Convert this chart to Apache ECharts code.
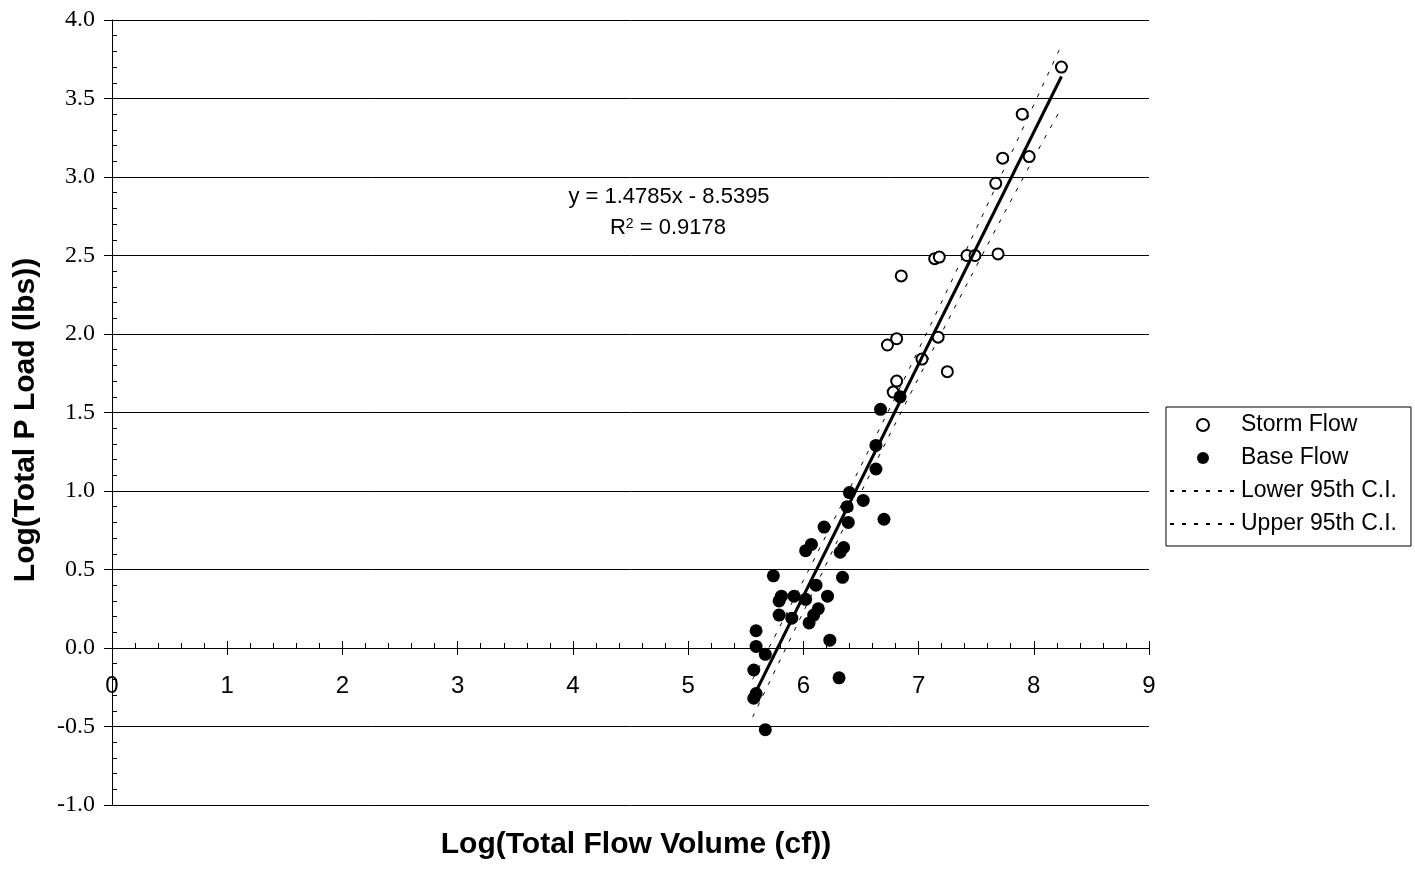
<!DOCTYPE html>
<html>
<head>
<meta charset="utf-8">
<script src="https://cdn.jsdelivr.net/npm/echarts@6/dist/echarts.min.js"></script>
<style>
html,body{margin:0;padding:0;background:#fff;}
#chart{width:1415px;height:872px;}
</style>
</head>
<body>
<div id="chart"></div>
<script>
// Storm flow points (open circles)
const stormX = [8.24, 7.90, 7.73, 7.96, 7.67, 7.14, 7.18, 7.42, 7.49, 7.69, 6.85, 6.73, 6.81, 7.17, 7.03, 7.25, 6.81, 6.78];
const stormY = [3.70, 3.40, 3.12, 3.13, 2.96, 2.48, 2.49, 2.50, 2.50, 2.51, 2.37, 1.93, 1.97, 1.98, 1.84, 1.76, 1.70, 1.63];
// Base flow points (filled circles)
const baseX = [6.84, 6.67, 6.63, 6.63, 6.40, 6.52, 6.38, 6.70, 6.39, 6.18, 6.07, 6.02, 6.35, 6.32, 5.74, 6.34, 6.11, 5.81,
               5.79, 5.92, 6.02, 6.21, 6.13, 6.09, 6.05, 5.79, 5.90, 5.59, 6.23, 5.59, 5.67, 5.57, 6.31, 5.59, 5.57, 5.67];
const baseY = [1.60, 1.52, 1.29, 1.14, 0.99, 0.94, 0.90, 0.82, 0.80, 0.77, 0.66, 0.62, 0.64, 0.61, 0.46, 0.45, 0.40, 0.33,
               0.30, 0.33, 0.31, 0.33, 0.25, 0.21, 0.16, 0.21, 0.19, 0.11, 0.05, 0.01, -0.04, -0.14, -0.19, -0.29, -0.32, -0.52];
// Regression line end points
const trendX = [5.56, 8.24];
const trendY = [-0.32, 3.64];
// 95% confidence interval curves
const ciX = [5.56, 6.0, 6.5, 7.0, 7.5, 8.0, 8.24];
const ciLower = [-0.44, 0.23, 0.99, 1.72, 2.43, 3.12, 3.44];
const ciUpper = [-0.20, 0.43, 1.16, 1.90, 2.67, 3.46, 3.84];
const xTicks = [0, 9, 1];
const yTicks = [-1, 4, 0.5];
const legendNames = ['Storm Flow', 'Base Flow', 'Lower 95th C.I.', 'Upper 95th C.I.'];

const zip = (a, b) => a.map((v, i) => [v, b[i]]);
const FONT = '"Liberation Sans", Arial, sans-serif';
const SERIF = '"Liberation Serif", "Times New Roman", serif';

const GRID_TOP = 20, GRID_BOTTOM = 67, H = 872;
const plotH = H - GRID_TOP - GRID_BOTTOM;
// distance from bottom of plot to the zero line (used to place the x tick labels at the crossing axis)
const zeroOffset = plotH * (0 - yTicks[0]) / (yTicks[1] - yTicks[0]);

const chart = echarts.init(document.getElementById('chart'), null, {renderer: 'canvas'});
chart.setOption({
  animation: false,
  backgroundColor: '#fff',
  grid: {left: 112, right: 266, top: GRID_TOP, bottom: GRID_BOTTOM, containLabel: false},
  xAxis: [
    {type: 'value', min: xTicks[0], max: xTicks[1], interval: xTicks[2],
     axisLine: {show: true, onZero: true, onZeroAxisIndex: 0, lineStyle: {color: '#000', width: 1}},
     axisTick: {show: true, inside: true, length: 7, lineStyle: {color: '#000'}},
     minorTick: {show: true, splitNumber: 5, length: 5, lineStyle: {color: '#000'}},
     axisLabel: {show: false},
     splitLine: {show: false}},
    {type: 'value', min: xTicks[0], max: xTicks[1], interval: xTicks[2], position: 'bottom',
     axisLine: {show: false, onZero: true, onZeroAxisIndex: 0},
     axisTick: {show: true, inside: false, length: 7, lineStyle: {color: '#000'}},
     axisLabel: {show: false}, splitLine: {show: false}},
    {type: 'value', min: xTicks[0], max: xTicks[1], interval: xTicks[2], position: 'bottom',
     offset: -zeroOffset,
     axisLine: {show: false, onZero: false},
     axisTick: {show: false},
     axisLabel: {show: true, margin: 26, color: '#000', fontFamily: FONT, fontSize: 24},
     splitLine: {show: false}}
  ],
  yAxis: [
    {type: 'value', min: yTicks[0], max: yTicks[1], interval: yTicks[2], position: 'left',
     axisLine: {show: true, onZero: true, onZeroAxisIndex: 0, lineStyle: {color: '#000', width: 1}},
     axisTick: {show: true, inside: false, length: 8, lineStyle: {color: '#000'}},
     axisLabel: {formatter: v => v.toFixed(1), fontFamily: SERIF, fontSize: 24, color: '#000', margin: 17},
     splitLine: {show: true, lineStyle: {color: '#000', width: 1}}},
    {type: 'value', min: yTicks[0], max: yTicks[1], interval: yTicks[2], position: 'left',
     axisLine: {show: false, onZero: true, onZeroAxisIndex: 0},
     axisTick: {show: false, inside: true},
     minorTick: {show: true, splitNumber: 5, length: 5, lineStyle: {color: '#000'}},
     axisLabel: {show: false}, splitLine: {show: false}}
  ],
  legend: {
    orient: 'vertical', left: 1166, top: 407,
    data: [
      {name: legendNames[0]},
      {name: legendNames[1]},
      {name: legendNames[2], itemStyle: {opacity: 0, color: 'rgba(0,0,0,0)', borderWidth: 0}},
      {name: legendNames[3], itemStyle: {opacity: 0, color: 'rgba(0,0,0,0)', borderWidth: 0}}
    ],
    itemWidth: 66, itemHeight: 12, itemGap: 9,
    textStyle: {fontFamily: FONT, fontSize: 23, color: '#000', lineHeight: 24},
    borderColor: '#000', borderWidth: 1, borderRadius: 0,
    padding: [6, 14, 10, 3], backgroundColor: '#fff',
    selectedMode: false
  },
  graphic: [
    {type: 'text', x: 669, y: 197,
     style: {text: 'y = 1.4785x - 8.5395', font: '22px ' + FONT, fill: '#000', align: 'center', verticalAlign: 'middle'}},
    {type: 'text', x: 668, y: 228,
     style: {text: 'R{sup|2} = 0.9178', font: '22px ' + FONT, fill: '#000', align: 'center', verticalAlign: 'middle',
             rich: {sup: {fontSize: 14, fontFamily: FONT, verticalAlign: 'top', lineHeight: 22}}}},
    {type: 'text', x: 636, y: 845,
     style: {text: 'Log(Total Flow Volume (cf))', font: 'bold 30px ' + FONT, fill: '#000', align: 'center', verticalAlign: 'middle'}},
    {type: 'text', x: 26, y: 420, rotation: Math.PI / 2,
     style: {text: 'Log(Total P Load (lbs))', font: 'bold 30px ' + FONT, fill: '#000', align: 'center', verticalAlign: 'middle'}}
  ],
  series: [
    {name: legendNames[0], type: 'scatter', data: zip(stormX, stormY), symbol: 'circle', symbolSize: 11,
     itemStyle: {color: '#fff', borderColor: '#000', borderWidth: 2, opacity: 1}, z: 3},
    {name: legendNames[1], type: 'scatter', data: zip(baseX, baseY), symbol: 'circle', symbolSize: 13,
     itemStyle: {color: '#000', opacity: 1}, z: 3},
    {name: legendNames[2], type: 'line', data: zip(ciX, ciLower), showSymbol: false, symbol: 'none', smooth: true,
     lineStyle: {color: '#000', width: 1, type: [4, 8]}, itemStyle: {color: '#000'}, z: 2},
    {name: legendNames[3], type: 'line', data: zip(ciX, ciUpper), showSymbol: false, symbol: 'none', smooth: true,
     lineStyle: {color: '#000', width: 1, type: [4, 8]}, itemStyle: {color: '#000'}, z: 2},
    {name: 'Trend', type: 'line', data: zip(trendX, trendY), showSymbol: false, symbol: 'none',
     lineStyle: {color: '#000', width: 3}, z: 4}
  ]
});
</script>
</body>
</html>
